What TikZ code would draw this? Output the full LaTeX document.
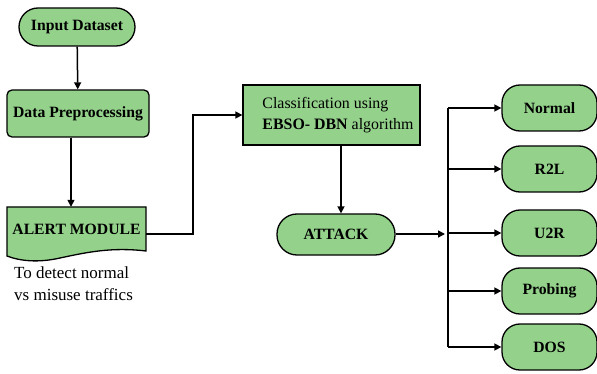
\documentclass[tikz,border=0pt]{standalone}
\usepackage{fontspec}
\setmainfont{Liberation Serif}
\usetikzlibrary{arrows.meta,calc}
\definecolor{boxgreen}{RGB}{148,210,139}
\tikzset{
  base/.style={draw=black, line width=1.3pt, fill=boxgreen, inner sep=0pt,
    font=\fontsize{15.7}{19}\selectfont\bfseries},
  pill/.style={base, rounded corners=19pt},
  roundbox/.style={base, rounded corners=5pt},
  plainbox/.style={base, font=\fontsize{15.9}{21}\selectfont},
  outbox/.style={base, rounded corners=18pt, minimum width=95pt, minimum height=46pt},
  link/.style={line width=1.5pt},
  arr/.style={link, -{Triangle[length=7pt,width=7pt]}}
}
\begin{document}
\begin{tikzpicture}[x=1pt,y=-1pt]
\useasboundingbox (0,0) rectangle (597,374);

% left column
\node[pill, minimum width=116pt, minimum height=38pt] (inp) at (77,27) {Input Dataset};
\node[roundbox, minimum width=142pt, minimum height=47pt] (pre) at (78,113.5) {Data Preprocessing};

% alert module: document shape with a wavy bottom edge
\draw[line width=1.3pt, fill=boxgreen] (7,207) -- (146,207) -- (146,251)
  .. controls (112,247) and (88,252) .. (60,258)
  .. controls (38,263) and (20,261) .. (7,256) -- cycle;
\node[inner sep=0pt, minimum width=139pt, minimum height=44pt,
  font=\fontsize{15.7}{19}\selectfont\bfseries] (alert) at (76.5,229) {ALERT MODULE};

\node[anchor=north west, inner sep=0pt, align=left,
  font=\fontsize{17}{22}\selectfont] (note) at (14,267)
  {To detect normal\\vs misuse traffics};

% middle column
\node[plainbox, minimum width=177pt, minimum height=60pt, align=left] (cls) at (331.5,115)
  {\hspace*{13pt}Classification using\\\hspace*{13pt}\textbf{EBSO- DBN} algorithm};
\node[pill, minimum width=118pt, minimum height=41pt, rounded corners=20pt] (atk) at (336,234.5) {ATTACK};

% outputs
\node[outbox] (nor) at (549.5,108) {Normal};
\node[outbox] (r2l) at (549.5,169) {R2L};
\node[outbox] (u2r) at (549.5,233) {U2R};
\node[outbox] (prb) at (549.5,291) {Probing};
\node[outbox] (dos) at (549.5,347) {DOS};

\coordinate (bustop) at (448,108);
\coordinate (busbot) at (448,347);
\coordinate (bend) at (193,115);

% connectors
\draw[arr] (inp) -- (pre);
\draw[arr] ([xshift=-7pt]pre.south) -- ([xshift=-7pt]pre.south |- alert.north);
\draw[arr] (alert.east |- 0,234) -| (bend) -- (cls.west);
\draw[arr] ([xshift=9.5pt]cls.south) -- ([xshift=9.5pt]cls.south |- atk.north);
\draw[arr] (atk.east |- 0,234) -- ([xshift=-3pt]bustop |- 0,234);
\draw[link] (bustop) -- (busbot);
\draw[arr] (bustop) -- (nor.west);
\draw[arr] (bustop |- r2l.west) -- (r2l.west);
\draw[arr] (bustop |- u2r.west) -- (u2r.west);
\draw[arr] (bustop |- prb.west) -- (prb.west);
\draw[arr] (busbot) -- (dos.west);
\end{tikzpicture}
\end{document}
